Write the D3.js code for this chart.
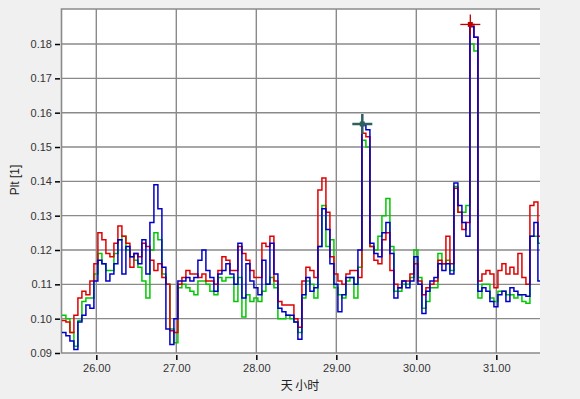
<!DOCTYPE html>
<html>
<head>
<meta charset="utf-8">
<script src="https://cdn.jsdelivr.net/npm/d3@7"></script>
<style>
  body { margin: 0; background: #f0f0f0; }
  svg { display: block; }
  .tick text { font-family: "Liberation Sans", Arial, sans-serif; font-size: 11px; fill: #333; }
</style>
</head>
<body>
<svg id="chart" width="580" height="399"></svg>
<script>
// time axis: samples every 0.05 day starting at 25.57
const startDay = 25.57;
const stepDay = 0.05;

const blueValues = [
  0.096, 0.095, 0.0935, 0.091, 0.099, 0.101, 0.104, 0.103, 0.111, 0.117,
  0.116, 0.111, 0.113, 0.116, 0.123, 0.113, 0.121, 0.118, 0.119, 0.116,
  0.123, 0.113, 0.128, 0.139, 0.132, 0.115, 0.097, 0.0925, 0.100, 0.111,
  0.111, 0.112, 0.111, 0.112, 0.117, 0.120, 0.114, 0.112, 0.108, 0.113,
  0.114, 0.116, 0.113, 0.110, 0.122, 0.106, 0.116, 0.111, 0.109, 0.107,
  0.117, 0.110, 0.122, 0.113, 0.103, 0.102, 0.101, 0.101, 0.099, 0.094,
  0.107, 0.112, 0.108, 0.109, 0.121, 0.132, 0.126, 0.116, 0.110, 0.102,
  0.107, 0.112, 0.112, 0.110, 0.120, 0.1565, 0.155, 0.122, 0.119, 0.118,
  0.125, 0.128, 0.119, 0.106, 0.109, 0.111, 0.109, 0.111, 0.118, 0.110,
  0.1015, 0.108, 0.111, 0.112, 0.116, 0.114, 0.116, 0.113, 0.1395, 0.133,
  0.128, 0.124, 0.185, 0.182, 0.108, 0.109, 0.108, 0.105, 0.1035, 0.107,
  0.108, 0.105, 0.109, 0.108, 0.107, 0.107, 0.1065, 0.124, 0.128, 0.111,
  0.118
];

const redValues = [
  0.0995, 0.099, 0.096, 0.101, 0.106, 0.108, 0.107, 0.111, 0.116, 0.125,
  0.123, 0.119, 0.118, 0.122, 0.127, 0.124, 0.122, 0.115, 0.119, 0.118,
  0.122, 0.121, 0.117, 0.114, 0.116, 0.112, 0.110, 0.0965, 0.096, 0.110,
  0.112, 0.114, 0.113, 0.113, 0.112, 0.113, 0.111, 0.111, 0.110, 0.114,
  0.118, 0.117, 0.114, 0.114, 0.121, 0.119, 0.117, 0.114, 0.112, 0.112,
  0.122, 0.121, 0.124, 0.111, 0.105, 0.104, 0.104, 0.104, 0.100, 0.0975,
  0.111, 0.115, 0.114, 0.112, 0.1375, 0.141, 0.131, 0.118, 0.113, 0.111,
  0.110, 0.113, 0.114, 0.114, 0.112, 0.154, 0.153, 0.121, 0.117, 0.116,
  0.123, 0.125, 0.114, 0.110, 0.109, 0.111, 0.111, 0.113, 0.116, 0.111,
  0.107, 0.109, 0.110, 0.111, 0.117, 0.116, 0.124, 0.116, 0.138, 0.131,
  0.126, 0.128, 0.1857, 0.182, 0.111, 0.113, 0.114, 0.113, 0.109, 0.114,
  0.116, 0.113, 0.115, 0.113, 0.119, 0.112, 0.110, 0.133, 0.134, 0.124,
  0.125
];

const greenValues = [
  0.101, 0.100, 0.096, 0.092, 0.0995, 0.105, 0.106, 0.106, 0.113, 0.119,
  0.116, 0.114, 0.114, 0.119, 0.123, 0.124, 0.120, 0.118, 0.117, 0.115,
  0.111, 0.106, 0.120, 0.125, 0.123, 0.113, 0.110, 0.097, 0.093, 0.109,
  0.110, 0.109, 0.108, 0.107, 0.111, 0.111, 0.110, 0.108, 0.107, 0.112,
  0.111, 0.112, 0.112, 0.105, 0.112, 0.1005, 0.107, 0.105, 0.106, 0.105,
  0.108, 0.110, 0.112, 0.109, 0.100, 0.100, 0.101, 0.100, 0.099, 0.096,
  0.106, 0.111, 0.110, 0.106, 0.121, 0.133, 0.121, 0.123, 0.109, 0.107,
  0.106, 0.111, 0.112, 0.106, 0.115, 0.152, 0.150, 0.121, 0.120, 0.124,
  0.130, 0.135, 0.121, 0.108, 0.108, 0.110, 0.110, 0.112, 0.120, 0.112,
  0.103, 0.105, 0.109, 0.109, 0.119, 0.116, 0.117, 0.114, 0.1385, 0.131,
  0.131, 0.133, 0.180, 0.178, 0.106, 0.110, 0.110, 0.106, 0.105, 0.108,
  0.108, 0.107, 0.107, 0.106, 0.107, 0.105, 0.1045, 0.124, 0.124, 0.122,
  0.117
];

const xTicks = [26, 27, 28, 29, 30, 31];
const yTicks = [0.09, 0.10, 0.11, 0.12, 0.13, 0.14, 0.15, 0.16, 0.17, 0.18];

// cursor markers (day, value)
const markerDays = [29.325, 30.675];
const markerValues = [0.1567, 0.1857];

const svg = d3.select('#chart');
const plotLeft = 61.5, plotRight = 540, plotTop = 9, plotBottom = 353;

const x = d3.scaleLinear().domain([25.565, 31.546]).range([plotLeft, plotRight]);
const y = d3.scaleLinear().domain([0.09, 0.1902]).range([plotBottom, plotTop]);

// plot background
svg.append('rect')
  .attr('x', plotLeft).attr('y', plotTop)
  .attr('width', plotRight - plotLeft).attr('height', plotBottom - plotTop)
  .attr('fill', '#fff');

svg.append('defs').append('clipPath').attr('id', 'clip')
  .append('rect')
  .attr('x', plotLeft).attr('y', plotTop)
  .attr('width', plotRight - plotLeft).attr('height', plotBottom - plotTop);

// grid
const grid = svg.append('g').attr('stroke', '#8a8a8a').attr('stroke-width', 1.4);
grid.selectAll('.gx').data(xTicks).join('line')
  .attr('x1', d => x(d)).attr('x2', d => x(d))
  .attr('y1', plotTop).attr('y2', plotBottom);
grid.selectAll('.gy').data(yTicks.slice(1)).join('line')
  .attr('x1', plotLeft).attr('x2', plotRight)
  .attr('y1', d => y(d)).attr('y2', d => y(d));

// frame: top, left, bottom
svg.append('path')
  .attr('d', `M${plotRight},${plotTop}H${plotLeft}V${plotBottom}H${plotRight}`)
  .attr('fill', 'none')
  .attr('stroke', '#8a8a8a')
  .attr('stroke-width', 1.6);

// axes
const xAxis = svg.append('g')
  .attr('transform', `translate(0,${plotBottom + 2})`)
  .call(d3.axisBottom(x).tickValues(xTicks).tickFormat(d3.format('.2f')).tickSize(5).tickPadding(4));
xAxis.select('.domain').remove();
xAxis.selectAll('.tick line').attr('stroke', '#000').attr('stroke-width', 1.5);

const yAxis = svg.append('g')
  .attr('transform', `translate(${plotLeft - 1.5},0)`)
  .call(d3.axisLeft(y).tickValues(yTicks).tickFormat(d3.format('.2f')).tickSize(5).tickPadding(3));
yAxis.select('.domain').remove();
yAxis.selectAll('.tick line').attr('stroke', '#000').attr('stroke-width', 1.5);

// series lines
const line = d3.line()
  .x((d, i) => x(startDay + i * stepDay))
  .y(d => y(d))
  .curve(d3.curveStepAfter);

const plot = svg.append('g').attr('clip-path', 'url(#clip)');
[[greenValues, '#00c800'], [redValues, '#e00000'], [blueValues, '#0000c8']].forEach(([vals, color]) => {
  plot.append('path')
    .datum(vals)
    .attr('fill', 'none')
    .attr('stroke', color)
    .attr('stroke-width', 1.5)
    .attr('d', line);
});

// cursor markers
const markerColors = ['#2f5f5f', '#c00000'];
const markerWidths = [2.5, 1.3];
markerDays.forEach((d, i) => {
  const cx = x(d), cy = y(markerValues[i]);
  const g = svg.append('g').attr('stroke', markerColors[i]).attr('stroke-width', markerWidths[i]);
  g.append('line').attr('x1', cx - 10).attr('x2', cx + 10).attr('y1', cy).attr('y2', cy);
  g.append('line').attr('x1', cx).attr('x2', cx).attr('y1', cy - 10).attr('y2', cy + 10);
  svg.append('rect')
    .attr('x', cx - 2.5).attr('y', cy - 2.5)
    .attr('width', 5).attr('height', 5)
    .attr('fill', markerColors[i]);
});

// axis titles
svg.append('text')
  .attr('transform', `translate(19,180) rotate(-90)`)
  .attr('text-anchor', 'middle')
  .attr('font-family', '"Liberation Sans", Arial, sans-serif')
  .attr('font-size', 12)
  .attr('fill', '#222')
  .text('Plt [1]');

svg.append('text')
  .attr('x', 300).attr('y', 390)
  .attr('text-anchor', 'middle')
  .attr('font-family', '"Noto Sans CJK SC", sans-serif')
  .attr('font-size', 12)
  .attr('fill', '#222')
  .text('天 小时');
</script>
</body>
</html>
